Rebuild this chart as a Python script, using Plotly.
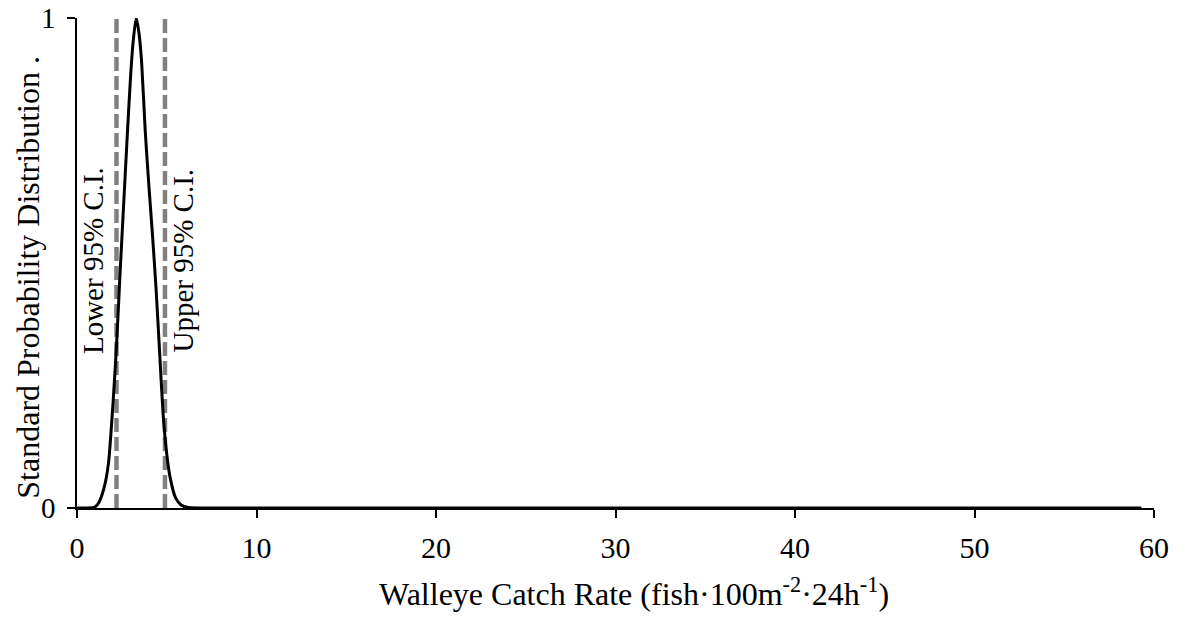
import plotly.graph_objects as go

# Data
x_vals = [0, 0.5, 1.0, 1.2, 1.5, 1.75, 2.0, 2.2, 2.4, 2.6, 2.8, 3.0, 3.15, 3.3,
          3.45, 3.6, 3.8, 4.0, 4.2, 4.4, 4.6, 4.8, 5.0, 5.2, 5.5, 5.8, 6.2, 7.0,
          10, 20, 30, 40, 50, 59.3]
y_vals = [0, 0, 0.002, 0.01, 0.04, 0.09, 0.21, 0.33, 0.48, 0.62, 0.76, 0.89, 0.96, 1.0,
          0.97, 0.91, 0.77, 0.66, 0.56, 0.45, 0.32, 0.19, 0.11, 0.06, 0.02, 0.006, 0.001, 0,
          0, 0, 0, 0, 0, 0]
lower_ci = 2.2
upper_ci = 4.9
x_ticks = [0, 10, 20, 30, 40, 50, 60]
y_ticks = [0, 1]
x_title = "Walleye Catch Rate (fish·100m<sup>-2</sup>·24h<sup>-1</sup>)"
y_title = "Standard Probability Distribution ."

FONT = "Liberation Serif, Times New Roman, serif"

fig = go.Figure()
fig.add_trace(go.Scatter(x=[lower_ci, lower_ci], y=[0, 1], mode="lines",
                         line=dict(color="#808080", width=4.5, dash="14px,5px"),
                         showlegend=False, hoverinfo="skip"))
fig.add_trace(go.Scatter(x=[upper_ci, upper_ci], y=[0, 1], mode="lines",
                         line=dict(color="#808080", width=4.5, dash="14px,5px"),
                         showlegend=False, hoverinfo="skip"))
fig.add_trace(go.Scatter(x=x_vals, y=y_vals, mode="lines",
                         line=dict(color="black", width=3, shape="spline", smoothing=0.6),
                         showlegend=False))

fig.add_annotation(x=lower_ci, y=0.505, xref="x", yref="y", text="Lower 95% C.I.",
                   textangle=-90, showarrow=False, xanchor="right", xshift=-6,
                   font=dict(family=FONT, size=29, color="black"))
fig.add_annotation(x=upper_ci, y=0.505, xref="x", yref="y", text="Upper 95% C.I.",
                   textangle=-90, showarrow=False, xanchor="left", xshift=0,
                   font=dict(family=FONT, size=29, color="black"))

# axis titles as annotations for exact placement
fig.add_annotation(x=0.5, y=0, xref="paper", yref="paper", text=x_title,
                   showarrow=False, xanchor="center", yanchor="middle",
                   xshift=18, yshift=-84,
                   font=dict(family=FONT, size=32, color="black"))
fig.add_annotation(x=0, y=0.47, xref="paper", yref="paper", text=y_title,
                   textangle=-90, showarrow=False, xanchor="center", yanchor="middle",
                   xshift=-49,
                   font=dict(family=FONT, size=32, color="black"))

fig.update_layout(
    width=1185, height=617,
    margin=dict(l=77, r=31, t=18, b=109),
    paper_bgcolor="white", plot_bgcolor="white",
    font=dict(family=FONT, size=29, color="black"),
    xaxis=dict(range=[0, 60], tickvals=x_ticks, showgrid=False, zeroline=False,
               showline=True, linecolor="black", linewidth=1.5, automargin=False,
               ticks="outside", ticklen=8, tickwidth=1.5, tickcolor="black",
               ticklabelstandoff=4,
               tickfont=dict(family=FONT, size=30)),
    yaxis=dict(range=[0, 1], tickvals=y_ticks, showgrid=False, zeroline=False,
               showline=True, linecolor="black", linewidth=1.5, automargin=False,
               ticks="outside", ticklen=8, tickwidth=1.5, tickcolor="black",
               ticklabelstandoff=6,
               tickfont=dict(family=FONT, size=29)),
)

fig.write_html("out.html")
